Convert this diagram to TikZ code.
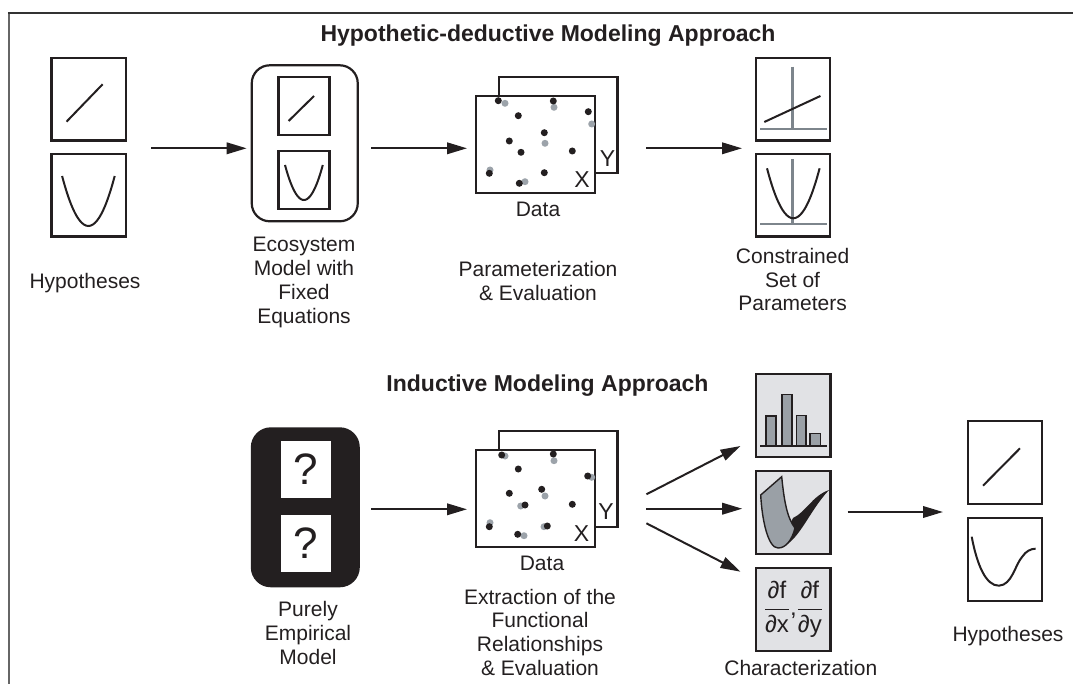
\documentclass[tikz,border=0pt]{standalone}
\usepackage{fontspec}
\setmainfont{Liberation Sans}
\usetikzlibrary{arrows.meta}
\definecolor{ink}{HTML}{231F20}
\definecolor{dotgray}{HTML}{9CA3AA}
\definecolor{axisgray}{HTML}{7D858C}
\definecolor{panelfill}{HTML}{E1E2E5}
\definecolor{barfill}{HTML}{9AA0A6}

\begin{document}
\begin{tikzpicture}[x=1pt,y=-1pt,
    lbl/.style={align=center, anchor=base, text=ink, inner sep=0pt, font=\fontsize{21}{23.8}\selectfont},
    ttl/.style={anchor=base, text=ink, inner sep=0pt, font=\bfseries\fontsize{23}{26}\selectfont},
    panel/.style={draw=ink, line width=2.2pt, inner sep=0pt, minimum width=74.2pt, minimum height=82.8pt},
    small/.style={draw=ink, line width=2.2pt, inner sep=0pt, minimum width=51pt, minimum height=58pt},
    sheet/.style={draw=ink, fill=white, line width=2.2pt, inner sep=0pt, minimum width=118.8pt, minimum height=96.5pt},
    axlbl/.style={text=ink, inner sep=0pt, font=\fontsize{23}{26}\selectfont},
    curve/.style={ink, line width=2pt},
    arr/.style={ink, line width=2pt, -{Triangle[length=20pt,width=11.5pt]}}]
  \useasboundingbox (0,0) rectangle (1073,684);
  % frame
  \draw[line width=2pt, black!60] (8.8,684) -- (8.8,13.3);
  \draw[line width=2pt, black!80] (7.8,13.3) -- (1073,13.3);

  \node[ttl] (T1) at (548,41.5) {Hypothetic-deductive Modeling Approach};
  \node[ttl] (T2) at (547.5,391) {Inductive Modeling Approach};

  % hypotheses
  \node[panel] (hypA) at (88.5,99.2) {};
  \node[panel] (hypB) at (88.5,195.2) {};
  \draw[curve] (66.5,121.7) -- (102.6,84.3);
  \draw[curve] plot[domain=-1:1, smooth, samples=25] ({88.4+26.3*\x},{226-50*\x*\x});
  \node[lbl] (hypL) at (85,288.3) {Hypotheses};

  % ecosystem model
  \node[draw=ink, line width=2.2pt, rounded corners=18pt, minimum width=106pt, minimum height=156pt] (eco) at (304.75,143.3) {};
  \node[small] (ecoA) at (304,105.7) {};
  \node[small] (ecoB) at (304,179.7) {};
  \draw[curve] (288.6,121) -- (314,96);
  \draw[curve] plot[domain=-1:1, smooth, samples=25] ({303.9+18.9*\x},{200-35*\x*\x});
  % base of a multi-line node = last line
  \node[lbl] (ecoL) at (304,323.1) {Ecosystem\\Model with\\Fixed\\Equations};

  % data
  \node[sheet] (back1) at (558,125) {};
  \node[sheet] (dat1) at (535.5,144.5) {};
  \foreach \p in {(505,103.3),(554,107.3),(591.7,124),(545,143.3),(490,170),(525,181.7)}
    \fill[dotgray] \p circle (3.5);
  \foreach \p in {(498.3,100.7),(553.3,101),(518.3,115.7),(588.3,111.7),(544.3,132.7),(509.3,141),(521,152.3),(572.3,151),(489.3,173.3),(544.3,172.7),(519.3,183.3)}
    \fill[ink] \p circle (3.5);
  \node[axlbl] (x1) at (582,180) {X};
  \node[axlbl] (y1) at (607.5,159) {Y};
  \node[lbl] (datL1) at (538,216.7) {Data};
  \node[lbl] (parL) at (538,300.5) {Parameterization\\\& Evaluation};

  % constrained parameters
  \node[panel] (conA) at (793.2,99.2) {};
  \node[panel] (conB) at (793.2,195.2) {};
  \draw[axisgray, line width=2.2pt] (792.5,66.7) -- (792.5,129.3) (760,129.3) -- (826.5,129.3);
  \draw[axisgray, line width=2.2pt] (792.5,159.3) -- (792.5,224) (760,224) -- (826.5,224);
  \draw[curve] (764.3,122) -- (820.4,96);
  \draw[curve] plot[domain=-1:1, smooth, samples=25] ({793.3+26.3*\x},{218.3-50*\x*\x});
  \node[lbl] (conL) at (792.6,310.9) {Constrained\\Set of\\Parameters};

  % empirical model
  \node[fill=ink, rounded corners=20pt, minimum width=109pt, minimum height=160pt] (emp) at (305.3,507.3) {};
  \node[fill=white, inner sep=0pt, minimum width=50pt, minimum height=57pt, text=ink, font=\fontsize{44}{48}\selectfont] (qA) at (306,469.3) {?};
  \node[fill=white, inner sep=0pt, minimum width=50pt, minimum height=57pt, text=ink, font=\fontsize{44}{48}\selectfont] (qB) at (306,543.3) {?};
  \node[lbl] (empL) at (308,664.3) {Purely\\Empirical\\Model};

  % data
  \node[sheet] (back2) at (558,479) {};
  \node[sheet] (dat2) at (535.5,498.5) {};
  \foreach \p in {(505,456),(554,460.7),(591.7,477.3),(545,496),(520.7,506),(490,522.7),(544,526.7),(524,535.7)}
    \fill[dotgray] \p circle (3.5);
  \foreach \p in {(501.7,455),(553.3,454),(518.3,469),(587.7,476),(541.7,489.3),(509.3,493.3),(525,505),(572.3,504.3),(489.3,526.7),(547.3,526),(517.7,534.3)}
    \fill[ink] \p circle (3.5);
  \node[axlbl] (x2) at (581.5,533.4) {X};
  \node[axlbl] (y2) at (606,511.5) {Y};
  \node[lbl] (datL2) at (542,570) {Data};
  \node[lbl] (extL) at (540,675.4) {Extraction of the\\Functional\\Relationships\\\& Evaluation};

  % characterization
  \node[panel, fill=panelfill] (chA) at (793.4,415.2) {};
  \node[panel, fill=panelfill] (chB) at (793.4,512.5) {};
  \node[panel, fill=panelfill, font=\fontsize{24}{28}\selectfont, text=ink] (chC) at (793.4,609.2)
    {$\displaystyle\frac{\mbox{∂f}}{\mbox{∂x}}\mbox{,}\frac{\mbox{∂f}}{\mbox{∂y}}$};
  \foreach \a/\b/\t in {766/776.2/416, 782/792.2/394.3, 796.6/806/415.3, 810.2/820.4/433.3}
    \filldraw[fill=barfill, draw=ink, line width=1.5pt] (\a,446) rectangle (\b,\t);
  \draw[ink, line width=2pt] (760.3,446) -- (827.2,446);
  \fill[ink] (778,548) .. controls (798,545) and (808,512) .. (829,490)
    .. controls (812,496) and (806,512) .. (793,518) -- cycle;
  \filldraw[fill=barfill, draw=ink, line width=1.4pt] (760.7,495) -- (781.7,476.7)
    .. controls (784,500) and (787,518) .. (795,528)
    .. controls (792,540) and (786,548) .. (778,548)
    .. controls (768,548) and (762,520) .. (760.7,495) -- cycle;
  \node[lbl] (chaL) at (800.8,675) {Characterization};

  % hypotheses
  \node[panel] (hypC) at (1005.2,462.5) {};
  \node[panel] (hypD) at (1005.2,559.2) {};
  \draw[curve] (983,485.7) -- (1020,448.3);
  \draw[curve] (971.7,536.7) .. controls (977,565) and (986,586) .. (999,585.7)
    .. controls (1012,585) and (1015,565) .. (1022,557)
    .. controls (1026,551) and (1031,548.7) .. (1035.6,548.7);
  \node[lbl] (hypL2) at (1008,641.7) {Hypotheses};

  % arrows
  \coordinate (s1) at (151,148.3);
  \coordinate (s2) at (371,148.3);
  \coordinate (s3) at (646.4,148.3);
  \coordinate (s4) at (371,509.3);
  \coordinate (s5) at (847.6,512);
  \coordinate (f1) at (646.4,494.3);
  \coordinate (f2) at (646.4,508.7);
  \coordinate (f3) at (646.4,523.3);
  \coordinate (e1) at (740.5,446);
  \coordinate (e3) at (740.5,571.7);
  \draw[arr, shorten >=4pt] (s1) -- (s1 -| eco.west);
  \draw[arr, shorten >=8pt] (s2) -- (s2 -| dat1.west);
  \draw[arr, shorten >=13pt] (s3) -- (s3 -| conA.west);
  \draw[arr, shorten >=8pt] (s4) -- (s4 -| dat2.west);
  \draw[arr] (f1) -- (e1);
  \draw[arr, shorten >=13pt] (f2) -- (f2 -| chB.west);
  \draw[arr] (f3) -- (e3);
  \draw[arr, shorten >=24pt] (s5) -- (s5 -| hypC.west);
\end{tikzpicture}
\end{document}
